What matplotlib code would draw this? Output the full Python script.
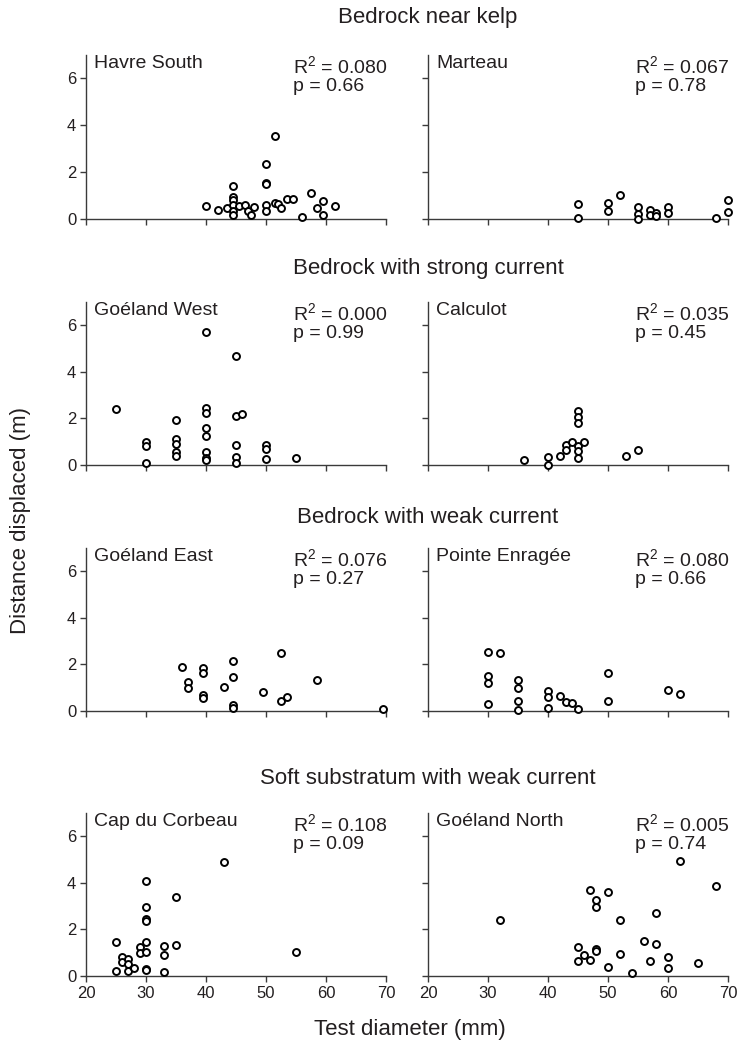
import matplotlib
matplotlib.use("Agg")
import matplotlib.pyplot as plt

plt.rcParams["font.family"] = ["Liberation Sans", "DejaVu Sans"]
plt.rcParams["mathtext.fontset"] = "custom"
plt.rcParams["mathtext.rm"] = "Liberation Sans"
plt.rcParams["mathtext.default"] = "regular"

TXT = "#231f20"
AX = "#3a3a3a"

# --- data: test diameter (mm) vs distance displaced (m) ---
havre_x = [40, 42, 43.5, 44.5, 44.5, 44.5, 44.5, 44.5, 44.5, 45.5, 46.5, 47, 47.5, 48,
           50, 50, 50, 50, 50, 51.5, 51.5, 52, 52.5, 53.5, 54.5, 56, 57.5, 58.5, 59.5, 59.5, 61.5]
havre_y = [0.55, 0.4, 0.45, 1.4, 0.95, 0.8, 0.6, 0.35, 0.15, 0.55, 0.6, 0.35, 0.15, 0.5,
           2.35, 1.55, 1.5, 0.6, 0.35, 3.55, 0.7, 0.65, 0.45, 0.85, 0.85, 0.1, 1.1, 0.45, 0.75, 0.15, 0.55]

marteau_x = [45, 45, 50, 50, 52, 55, 55, 55, 57, 57, 58, 58, 60, 60, 68, 70, 70]
marteau_y = [0.65, 0.05, 0.7, 0.35, 1.02, 0.5, 0.2, 0.02, 0.4, 0.15, 0.25, 0.12, 0.5, 0.25, 0.03, 0.8, 0.3]

gwest_x = [25, 30, 30, 30, 35, 35, 35, 35, 35, 40, 40, 40, 40, 40, 40, 40, 40,
           45, 45, 46, 45, 45, 45, 50, 50, 50, 55]
gwest_y = [2.4, 1.0, 0.8, 0.1, 1.95, 1.1, 0.9, 0.55, 0.4, 5.7, 2.45, 2.25, 1.6, 1.25, 0.55, 0.3, 0.2,
           4.7, 2.1, 2.2, 0.85, 0.35, 0.07, 0.85, 0.7, 0.25, 0.3]

calc_x = [36, 40, 40, 42, 43, 43, 44, 45, 45, 45, 45, 45, 45, 46, 53, 55]
calc_y = [0.2, 0.33, 0.0, 0.4, 0.88, 0.65, 1.0, 2.3, 2.05, 1.8, 0.82, 0.6, 0.3, 1.0, 0.4, 0.65]

geast_x = [36, 37, 37, 39.5, 39.5, 39.5, 39.5, 43, 44.5, 44.5, 44.5, 44.5, 49.5, 52.5, 52.5, 53.5, 58.5, 69.5]
geast_y = [1.9, 1.25, 1.0, 1.85, 1.65, 0.7, 0.55, 1.05, 2.15, 1.45, 0.25, 0.15, 0.8, 2.5, 0.45, 0.6, 1.35, 0.1]

pointe_x = [30, 30, 30, 30, 32, 35, 35, 35, 35, 40, 40, 40, 42, 43, 44, 45, 50, 50, 60, 62]
pointe_y = [2.55, 1.5, 1.2, 0.3, 2.5, 1.35, 1.0, 0.45, 0.05, 0.85, 0.6, 0.15, 0.65, 0.4, 0.35, 0.1, 1.62, 0.45, 0.9, 0.75]

cap_x = [25, 25, 26, 26, 27, 27, 27, 28, 29, 29, 30, 30, 30, 30, 30, 30, 30, 30,
         33, 33, 33, 35, 35, 43, 55]
cap_y = [1.45, 0.22, 0.8, 0.62, 0.72, 0.5, 0.22, 0.33, 1.25, 1.0, 4.1, 2.95, 2.45, 2.35, 1.45, 1.05, 0.3, 0.25,
         1.28, 0.9, 0.18, 3.4, 1.35, 4.9, 1.05]

gnorth_x = [32, 45, 45, 46, 47, 47, 48, 48, 48, 48, 50, 50, 52, 52, 54, 56, 57, 58, 58, 60, 60, 62, 65, 68]
gnorth_y = [2.4, 1.25, 0.65, 0.9, 3.7, 0.7, 3.25, 2.95, 1.15, 1.07, 3.6, 0.4, 2.42, 0.93, 0.12, 1.5, 0.65, 2.72, 1.38,
            0.83, 0.33, 4.93, 0.57, 3.85]

sites = ["Havre South", "Marteau", "Goéland West", "Calculot",
         "Goéland East", "Pointe Enragée", "Cap du Corbeau", "Goéland North"]
r2_vals = ["0.080", "0.067", "0.000", "0.035", "0.076", "0.080", "0.108", "0.005"]
p_vals = ["0.66", "0.78", "0.99", "0.45", "0.27", "0.66", "0.09", "0.74"]
groups = ["Bedrock near kelp", "Bedrock with strong current",
          "Bedrock with weak current", "Soft substratum with weak current"]

xs = [havre_x, marteau_x, gwest_x, calc_x, geast_x, pointe_x, cap_x, gnorth_x]
ys = [havre_y, marteau_y, gwest_y, calc_y, geast_y, pointe_y, cap_y, gnorth_y]

fig = plt.figure(figsize=(7.39, 10.52), dpi=100)

W, H = 739.0, 1052.0
lefts = [86, 428]
rows = [(55, 219), (302, 465), (548, 711), (813, 976)]
title_y = [18, 268, 518, 778]
pw = 300

for r, (top, bot) in enumerate(rows):
    for c in range(2):
        i = r * 2 + c
        ax = fig.add_axes([lefts[c] / W, 1 - bot / H, pw / W, (bot - top) / H])
        ax.plot(xs[i], ys[i], "o", ms=5, mfc="white", mec="black", mew=1.4,
                ls="none", clip_on=False, zorder=3)
        ax.set_xlim(20, 70)
        ax.set_ylim(0, 7)
        ax.set_xticks([20, 30, 40, 50, 60, 70])
        ax.set_yticks([0, 2, 4, 6])
        for s in ["top", "right"]:
            ax.spines[s].set_visible(False)
        for s in ["left", "bottom"]:
            ax.spines[s].set_color(AX)
            ax.spines[s].set_linewidth(1.0)
        ax.tick_params(direction="out", length=4, width=1.0, color=AX,
                       labelsize=12, labelcolor=TXT, pad=3)
        if c == 1:
            ax.tick_params(labelleft=False)
        if r < 3:
            ax.tick_params(labelbottom=False)
        ax.text(0.027, 1.0, sites[i], transform=ax.transAxes, ha="left", va="top",
                fontsize=14, color=TXT)
        ax.text(0.69, 1.0, "R$^{2}$ = " + r2_vals[i], transform=ax.transAxes,
                ha="left", va="top", fontsize=14, color=TXT)
        ax.text(0.69, 0.86, "p = " + p_vals[i], transform=ax.transAxes,
                ha="left", va="top", fontsize=14, color=TXT)
    fig.text(428 / W, 1 - title_y[r] / H, groups[r], ha="center", va="center",
             fontsize=16, color=TXT)

fig.text(21 / W, 1 - 520 / H, "Distance displaced (m)", rotation=90, ha="center", va="center",
         fontsize=16, color=TXT)
fig.text(410 / W, 1 - 1030 / H, "Test diameter (mm)", ha="center", va="center",
         fontsize=16, color=TXT)

fig.savefig("out.png", dpi=100, facecolor="white")
